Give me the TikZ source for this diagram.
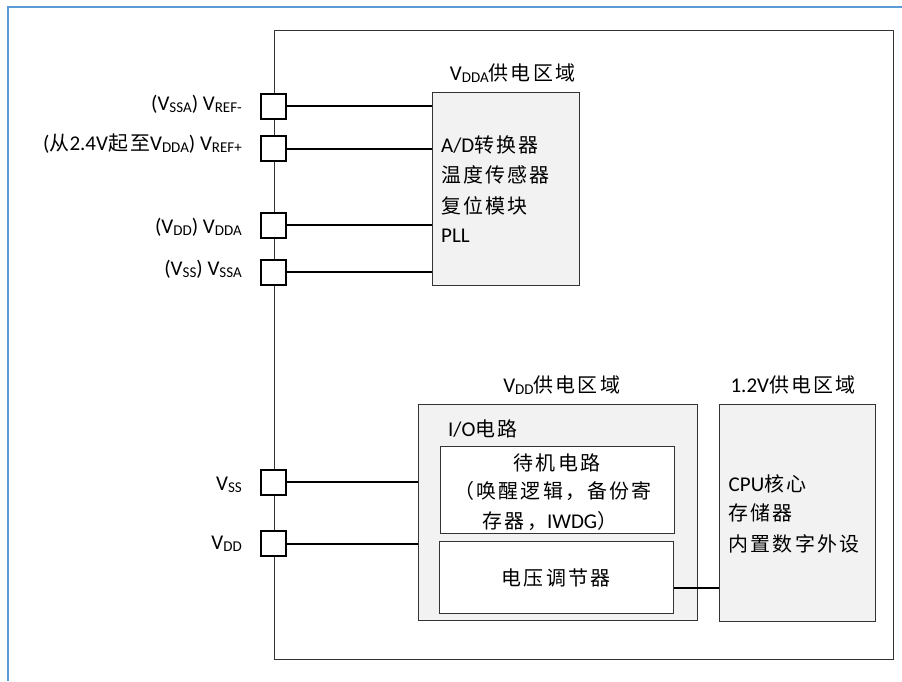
\documentclass[tikz,border=0pt]{standalone}
\usepackage{fontspec}
\setmainfont{Carlito}
\newfontfamily\cjk[LetterSpace=11,Scale=0.95]{Noto Sans CJK SC}
\newcommand\lo[1]{\raisebox{-2.5pt}{\fontsize{15}{15}\selectfont #1}}
\definecolor{frameblue}{RGB}{91,155,213}
\definecolor{boxfill}{RGB}{242,242,242}
\begin{document}
\begin{tikzpicture}[x=1pt,y=-1pt,
 txt/.style={inner sep=0pt, font=\fontsize{21}{25}\selectfont},
 pinbox/.style={draw=black, line width=2pt, fill=white, minimum size=25pt, inner sep=0pt},
 wire/.style={line width=2pt},
 chipbox/.style={draw=black!80, line width=1.1pt, inner sep=0pt, anchor=north west},
 dombox/.style={draw=black!80, line width=1pt, fill=boxfill, inner sep=0pt, anchor=north west},
 innerbox/.style={draw=black!80, line width=1pt, fill=white, inner sep=0pt, anchor=north west},
]
\useasboundingbox (0,0) rectangle (902,681);
\draw[frameblue, line width=1.5pt] (8,681) -- (8,7) -- (902,7);

\node[chipbox, minimum width=619.5pt, minimum height=629pt] (chip) at (273.5,30) {};

\node[dombox, minimum width=147pt, minimum height=193pt] (vdda) at (432,92) {};
\node[dombox, minimum width=279pt, minimum height=216pt] (vdd) at (418,404) {};
\node[innerbox, minimum width=234pt, minimum height=87pt] (stby) at (440,446) {};
\node[innerbox, minimum width=234pt, minimum height=72pt] (reg) at (439,541) {};
\node[dombox, minimum width=156pt, minimum height=217pt] (core) at (719,404) {};

\node[pinbox] (p1) at (273.5,106) {};
\node[pinbox] (p2) at (273.5,148.5) {};
\node[pinbox] (p3) at (273.5,225) {};
\node[pinbox] (p4) at (273.5,272) {};
\node[pinbox] (p5) at (273.5,482) {};
\node[pinbox] (p6) at (273.5,543.5) {};

\draw[wire] (p1.east) -- (p1.east -| vdda.west);
\draw[wire] (p2.east) -- (p2.east -| vdda.west);
\draw[wire] (p3.east) -- (p3.east -| vdda.west);
\draw[wire] (p4.east) -- (p4.east -| vdda.west);
\draw[wire] (p5.east) -- (p5.east -| vdd.west);
\draw[wire] (p6.east) -- (p6.east -| vdd.west);
\coordinate (rl) at (673,588);
\draw[wire] (reg.east |- rl) -- (core.west |- rl);

% pin labels
\node[txt, anchor=base east] (l1) at (242,110) {(V\lo{SSA}) V\lo{REF-}};
\node[txt, anchor=base east] (l2) at (242,150) {({\cjk 从}2.4V{\cjk 起至}V\lo{DDA}) V\lo{REF+}};
\node[txt, anchor=base east] (l3) at (242,233) {(V\lo{DD}) V\lo{DDA}};
\node[txt, anchor=base east] (l4) at (242,275) {(V\lo{SS}) V\lo{SSA}};
\node[txt, anchor=base east] (l5) at (242,490) {V\lo{SS}};
\node[txt, anchor=base east] (l6) at (242,549) {V\lo{DD}};

% domain titles
\node[txt, anchor=base] (t1) at (512.5,80) {V\lo{DDA}{\cjk 供电区域}};
\node[txt, anchor=base] (t2) at (561.7,392) {V\lo{DD}{\cjk 供电区域}};
\node[txt, anchor=base] (t3) at (793,392) {1.2V{\cjk 供电区域}};

% VDDA box contents
\node[txt, anchor=base west] (a1) at (441,152) {A/D{\cjk 转换器}};
\node[txt, anchor=base west] (a2) at (441,182) {\cjk 温度传感器};
\node[txt, anchor=base west] (a3) at (441,213) {\cjk 复位模块};
\node[txt, anchor=base west] (a4) at (441,242) {PLL};

% VDD box contents
\node[txt, anchor=base west] (io) at (448,436) {I/O{\cjk 电路}};
\node[txt, anchor=base] (s1) at (557,470) {\cjk 待机电路};
\node[txt, anchor=base] (s2) at (553,498) {\cjk （唤醒逻辑，备份寄};
\node[txt, anchor=base] (s3) at (550,528) {{\cjk 存器，}IWDG{\cjk ）}};
\node[txt, anchor=base] (r1) at (556,585) {\cjk 电压调节器};

% core box contents
\node[txt, anchor=base west] (c1) at (728.5,491.5) {CPU{\cjk 核心}};
\node[txt, anchor=base west] (c2) at (728.5,520) {\cjk 存储器};
\node[txt, anchor=base west] (c3) at (728.5,551) {\cjk 内置数字外设};
\end{tikzpicture}
\end{document}
